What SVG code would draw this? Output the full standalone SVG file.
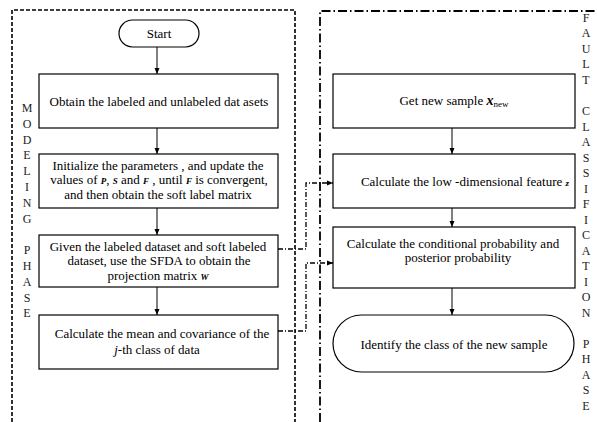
<svg xmlns="http://www.w3.org/2000/svg" width="597" height="422" viewBox="0 0 597 422">
<defs>
<marker id="ah" markerWidth="8" markerHeight="8" refX="7" refY="4" orient="auto" markerUnits="userSpaceOnUse">
<path d="M1,1.5 L7,4 L1,6.5 Z" fill="#000"/>
</marker>
<style>
.t{font-family:"Liberation Serif","Times New Roman",serif;font-size:13px;fill:#000;text-anchor:middle}
.v{font-family:"Liberation Serif","Times New Roman",serif;font-size:12px;fill:#222;text-anchor:middle}
.box{fill:#fff;stroke:#000;stroke-width:1.2}
.flow{stroke:#000;stroke-width:1;fill:none}
.link{stroke:#000;stroke-width:1.3;fill:none;stroke-dasharray:5 2 1 2}
.m{font-style:italic;font-weight:bold;font-size:9px}
</style>
</defs>
<rect width="597" height="422" fill="#fff"/>

<g id="frames">
<path d="M12,422 V10 H295 V422" fill="none" stroke="#000" stroke-width="1.6" stroke-dasharray="4 2"/>
<path d="M320,422 V11 H597" fill="none" stroke="#000" stroke-width="1.8" stroke-dasharray="9 3 1.5 3"/>
</g>

<g id="labels">
<text class="v" x="27" y="112">M</text>
<text class="v" x="27" y="128">O</text>
<text class="v" x="27" y="144">D</text>
<text class="v" x="27" y="159">E</text>
<text class="v" x="27" y="175">L</text>
<text class="v" x="27" y="191">I</text>
<text class="v" x="27" y="207">N</text>
<text class="v" x="27" y="223">G</text>
<text class="v" x="27" y="254">P</text>
<text class="v" x="27" y="270">H</text>
<text class="v" x="27" y="286">A</text>
<text class="v" x="27" y="302">S</text>
<text class="v" x="27" y="317">E</text>

<text class="v" x="586" y="22">F</text>
<text class="v" x="586" y="37">A</text>
<text class="v" x="586" y="53">U</text>
<text class="v" x="586" y="68">L</text>
<text class="v" x="586" y="84">T</text>
<text class="v" x="586" y="115">C</text>
<text class="v" x="586" y="131">L</text>
<text class="v" x="586" y="146">A</text>
<text class="v" x="586" y="162">S</text>
<text class="v" x="586" y="177">S</text>
<text class="v" x="586" y="193">I</text>
<text class="v" x="586" y="208">F</text>
<text class="v" x="586" y="224">I</text>
<text class="v" x="586" y="239">C</text>
<text class="v" x="586" y="255">A</text>
<text class="v" x="586" y="270">T</text>
<text class="v" x="586" y="286">I</text>
<text class="v" x="586" y="301">O</text>
<text class="v" x="586" y="317">N</text>
<text class="v" x="586" y="348">P</text>
<text class="v" x="586" y="363">H</text>
<text class="v" x="586" y="379">A</text>
<text class="v" x="586" y="394">S</text>
<text class="v" x="586" y="410">E</text>
</g>

<g id="connectors">
<line class="flow" x1="157" y1="47" x2="157" y2="74" marker-end="url(#ah)"/>
<line class="flow" x1="157" y1="128" x2="157" y2="154" marker-end="url(#ah)"/>
<line class="flow" x1="157" y1="208" x2="157" y2="235" marker-end="url(#ah)"/>
<line class="flow" x1="157" y1="287" x2="157" y2="315" marker-end="url(#ah)"/>
<line class="flow" x1="452" y1="128" x2="452" y2="154" marker-end="url(#ah)"/>
<line class="flow" x1="452" y1="208" x2="452" y2="227" marker-end="url(#ah)"/>
<line class="flow" x1="452" y1="288" x2="452" y2="315" marker-end="url(#ah)"/>
<path class="link" d="M278,249 H306 V183 H333" marker-end="url(#ah)"/>
<path class="link" d="M278,331 H306 V263 H333" marker-end="url(#ah)"/>
</g>

<g id="start">
<rect class="box" x="119" y="20" width="80" height="27" rx="13.5"/>
<text class="t" x="159" y="38">Start</text>
</g>
<g id="obtain">
<rect class="box" x="39" y="74" width="239" height="54"/>
<text class="t" x="159" y="106">Obtain the labeled and unlabeled dat asets</text>
</g>
<g id="init">
<rect class="box" x="39" y="154" width="239" height="54"/>
<text class="t" x="158" y="170">Initialize the parameters , and update the</text>
<text class="t" x="159" y="184">values of <tspan class="m">P</tspan>, <tspan class="m">S</tspan> and  <tspan class="m">F</tspan> , until  <tspan class="m">F</tspan> is convergent,</text>
<text class="t" x="158" y="199">and then obtain  the soft label  matrix</text>
</g>
<g id="sfda">
<rect class="box" x="39" y="235" width="239" height="52"/>
<text class="t" x="158" y="251">Given the labeled dataset and soft labeled</text>
<text class="t" x="159" y="265">dataset, use the SFDA to obtain the</text>
<text class="t" x="158" y="280">projection matrix <tspan class="m">W</tspan></text>
</g>
<g id="mean">
<rect class="box" x="39" y="315" width="239" height="54"/>
<text class="t" x="162" y="338">Calculate the mean and covariance of  the</text>
<text class="t" x="157" y="354"><tspan font-style="italic">j</tspan>-th class of data</text>
</g>
<g id="newsample">
<rect class="box" x="333" y="74" width="242" height="54"/>
<text class="t" x="454" y="105">Get new sample <tspan font-style="italic" font-weight="bold" font-size="14">x</tspan><tspan font-size="9" dy="2">new</tspan></text>
</g>
<g id="lowdim">
<rect class="box" x="333" y="154" width="242" height="54"/>
<text class="t" x="465" y="186">Calculate the low -dimensional feature <tspan class="m">z</tspan></text>
</g>
<g id="prob">
<rect class="box" x="333" y="227" width="242" height="61"/>
<text class="t" x="453" y="248">Calculate the  conditional probability and</text>
<text class="t" x="458" y="262">posterior probability</text>
</g>
<g id="identify">
<rect class="box" x="333" y="315" width="241" height="57" rx="28.5"/>
<text class="t" x="454" y="349">Identify the class of the new sample</text>
</g>
</svg>
